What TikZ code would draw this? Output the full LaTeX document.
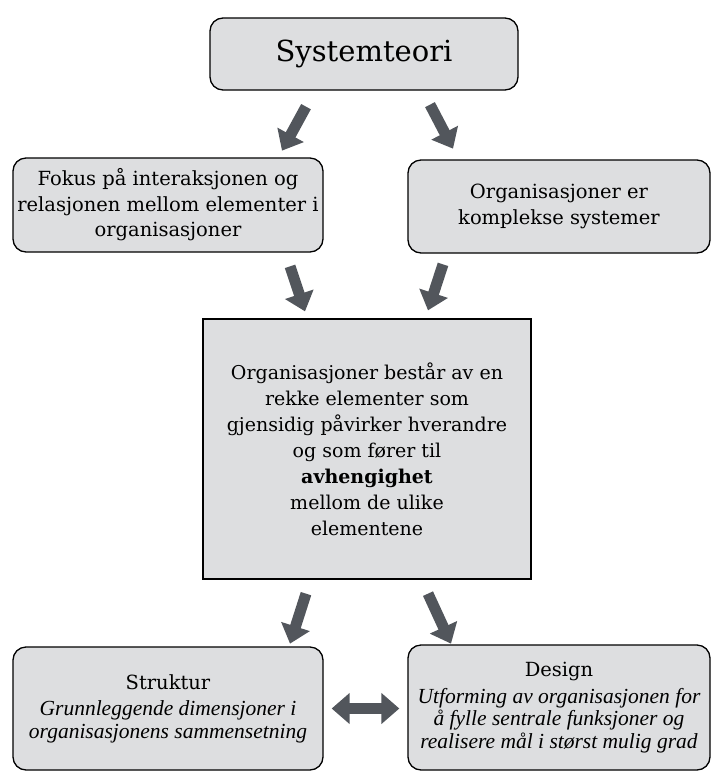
\documentclass[tikz,border=0pt]{standalone}
\usepackage{fontspec}
\setmainfont{DejaVu Serif}
\newfontfamily\notefont{Liberation Serif}
\usepackage{tikz}
\usetikzlibrary{
  arrows.meta,
  positioning,
  calc
}
\definecolor{boxgray}{RGB}{221,222,224}
\definecolor{arrowgray}{RGB}{82,86,92}
\newcommand{\notetext}[1]{{\notefont\itshape\fontsize{21.5}{22.5}\selectfont #1}}
\tikzset{
  topbox/.style = {
    draw, line width=1.3pt, fill=boxgray, rounded corners=13pt,
    align=center, inner sep=0pt
  },
  fatarrow/.style = {
    draw=arrowgray, line width=11pt,
    -{Triangle[length=18pt, width=29pt]}
  },
  fatboth/.style = {
    draw=arrowgray, line width=11pt,
    {Triangle[length=18pt, width=30pt]}-{Triangle[length=18pt, width=30pt]}
  }
}

\begin{document}
\begin{tikzpicture}[
    x=1pt, y=-1pt,
    every node/.style={font=\fontsize{19.5}{25.5}\selectfont}
]
    \useasboundingbox (0,0) rectangle (712,772);

    % Top level
    \node[topbox, minimum width=308pt, minimum height=72pt,
          font=\fontsize{29}{34}\selectfont] (sys) at (364,54) {Systemteori};

    % Second level
    \node[topbox, minimum width=310pt, minimum height=94pt]
        (fokus) at (168,205)
        {Fokus på interaksjonen og\\relasjonen mellom elementer i\\organisasjoner};
    \node[topbox, minimum width=302pt, minimum height=93pt]
        (kompleks) at (559,206.5)
        {Organisasjoner er\\komplekse systemer};

    % Central box
    \node[topbox, rounded corners=0pt, minimum width=328pt, minimum height=260pt,
          font=\fontsize{19}{26}\selectfont]
        (avh) at (367,449)
        {Organisasjoner består av en\\rekke elementer som\\gjensidig påvirker hverandre\\og som fører til\\\textbf{avhengighet}\\mellom de ulike\\elementene};

    % Bottom level
    \node[topbox, minimum width=310pt, minimum height=123pt,
          font=\fontsize{19.5}{22.5}\selectfont]
        (struktur) at (168,708.5)
        {Struktur\\[4pt]\notetext{Grunnleggende dimensjoner i}\\\notetext{organisasjonens sammensetning}};
    \node[topbox, minimum width=302pt, minimum height=125pt,
          font=\fontsize{19.5}{22.5}\selectfont]
        (design) at (559,707.5)
        {Design\\[4pt]\notetext{Utforming av organisasjonen for}\\\notetext{å fylle sentrale funksjoner og}\\\notetext{realisere mål i størst mulig grad}};

    % Arrow end points
    \coordinate (a1s) at ($(sys.south)+(-58,16)$);
    \coordinate (a1e) at ($(sys.south)+(-82,60)$);
    \coordinate (a2s) at ($(sys.south)+(66,14)$);
    \coordinate (a2e) at ($(sys.south)+(89,58)$);
    \coordinate (a3s) at ($(avh.north)+(-77,-52)$);
    \coordinate (a3e) at ($(avh.north)+(-62,-7)$);
    \coordinate (a4s) at ($(avh.north)+(76,-54)$);
    \coordinate (a4e) at ($(avh.north)+(61,-8)$);
    \coordinate (a5s) at ($(avh.south)+(-61,14)$);
    \coordinate (a5e) at ($(avh.south)+(-77,64)$);
    \coordinate (a6s) at ($(avh.south)+(61,14)$);
    \coordinate (a6e) at ($(avh.south)+(84,64)$);

    % Block arrows
    \draw[fatarrow] (a1s) -- (a1e);
    \draw[fatarrow] (a2s) -- (a2e);
    \draw[fatarrow] (a3s) -- (a3e);
    \draw[fatarrow] (a4s) -- (a4e);
    \draw[fatarrow] (a5s) -- (a5e);
    \draw[fatarrow] (a6s) -- (a6e);

    % Two-way arrow between Struktur and Design
    \draw[fatboth, shorten <=8pt, shorten >=8pt]
        (struktur.east) -- (struktur.east -| design.west);

\end{tikzpicture}
\end{document}
